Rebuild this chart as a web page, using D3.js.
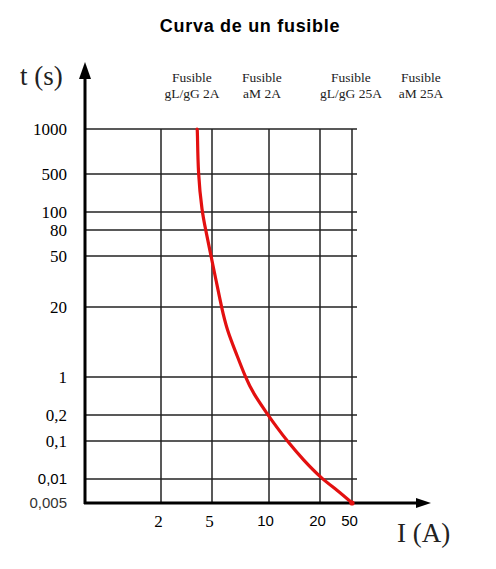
<!DOCTYPE html>
<html>
<head>
<meta charset="utf-8">
<script src="https://cdn.jsdelivr.net/npm/d3@7"></script>
<style>
  body { margin: 0; background: #fff; }
  .serif { font-family: "Liberation Serif", "Times New Roman", serif; }
  .sans { font-family: "Liberation Sans", Arial, sans-serif; }
</style>
</head>
<body>
<div id="vis"></div>
<script>
// data
const T_TICKS = [1000, 500, 100, 80, 50, 20, 1, 0.2, 0.1, 0.01, 0.005];
const T_LABELS = ["1000", "500", "100", "80", "50", "20", "1", "0,2", "0,1", "0,01", "0,005"];
const I_TICKS = [2, 5, 10, 20, 50];
const I_LABELS = ["2", "5", "10", "20", "50"];
const FUSE_TOP = ["Fusible", "Fusible", "Fusible", "Fusible"];
const FUSE_BOTTOM = ["gL/gG 2A", "aM 2A", "gL/gG 25A", "aM 25A"];
// fuse curve (current in A, time in s)
const CURVE_I = [3.82, 3.85, 3.89, 4.18, 4.47, 4.91, 5.25, 5.61, 6.0, 6.70, 7.5, 8.22, 9.88, 11.1, 12.8, 15.9, 21.2, 32.5, 50, 50];
const CURVE_T = [1000, 1000, 500, 100, 80, 50, 32.5, 20, 7.5, 2.8, 1, 0.51, 0.2, 0.145, 0.1, 0.032, 0.01, 0.0073, 0.005, 0.005];

// frame
const FRAME_WIDTH = 496;
const FRAME_HEIGHT = 569;
const ORIGIN = {x: 85, y: 503};
const GRID_RIGHT = 357;
const HEAD_X = [192, 262, 351, 421];

const svg = d3.select("#vis")
  .append("svg")
    .attr("width", FRAME_WIDTH)
    .attr("height", FRAME_HEIGHT);

// the paper's axes are not a true log grid, so use piecewise log scales
const X_SCALE = d3.scaleLog()
  .domain([1].concat(I_TICKS))
  .range([ORIGIN.x, 161, 212, 269, 320, 352]);
const Y_SCALE = d3.scaleLog()
  .domain(T_TICKS)
  .range([129, 174, 212, 230, 256, 307, 377, 415, 441, 479, ORIGIN.y]);

// title
svg.append("text")
  .attr("class", "sans")
  .attr("x", 250).attr("y", 32)
  .attr("text-anchor", "middle")
  .attr("font-size", "18px")
  .attr("letter-spacing", "0.7px")
  .attr("font-weight", "bold")
  .text("Curva de un fusible");

// grid
svg.append("g")
  .selectAll("line")
  .data(T_TICKS)
  .enter()
  .append("line")
    .attr("x1", ORIGIN.x).attr("x2", GRID_RIGHT)
    .attr("y1", d => Y_SCALE(d)).attr("y2", d => Y_SCALE(d))
    .attr("stroke", "#222").attr("stroke-width", 1.5);

svg.append("g")
  .selectAll("line")
  .data(I_TICKS)
  .enter()
  .append("line")
    .attr("x1", d => X_SCALE(d)).attr("x2", d => X_SCALE(d))
    .attr("y1", Y_SCALE(1000)).attr("y2", ORIGIN.y)
    .attr("stroke", "#222").attr("stroke-width", 1.5);

// y tick labels
const yAxis = svg.append("g")
  .attr("transform", "translate(" + (ORIGIN.x - 18) + ",0)")
  .call(d3.axisLeft(Y_SCALE).tickValues(T_TICKS).tickSize(0).tickPadding(0)
    .tickFormat((d, i) => T_LABELS[i]));
yAxis.select(".domain").remove();
yAxis.selectAll("text")
  .attr("font-family", (d, i) => i >= 9 ? "Liberation Sans, Arial, sans-serif" : "Liberation Serif, Times New Roman, serif")
  .attr("font-size", (d, i) => i >= 9 ? "15px" : "17px")
  .attr("fill", (d, i) => i == 10 ? "#333" : "#000");

// x tick labels
const xAxis = svg.append("g")
  .attr("transform", "translate(0," + ORIGIN.y + ")")
  .call(d3.axisBottom(X_SCALE).tickValues(I_TICKS).tickSize(0).tickPadding(12)
    .tickFormat((d, i) => I_LABELS[i]));
xAxis.select(".domain").remove();
xAxis.selectAll("text")
  .attr("font-family", (d, i) => i >= 2 ? "Liberation Sans, Arial, sans-serif" : "Liberation Serif, Times New Roman, serif")
  .attr("font-size", (d, i) => i >= 2 ? "15px" : "17px")
  .attr("dx", (d, i) => i == 2 ? -4 : -3);

// fuse headers
const heads = svg.append("g")
  .selectAll("text")
  .data(FUSE_TOP)
  .enter()
  .append("text")
    .attr("class", "serif")
    .attr("text-anchor", "middle")
    .attr("font-size", "13.5px")
    .attr("fill", "#222")
    .attr("x", (d, i) => HEAD_X[i]);
heads.append("tspan").attr("y", 82).text(d => d);
heads.append("tspan")
  .attr("x", (d, i) => HEAD_X[i])
  .attr("y", 98)
  .text((d, i) => FUSE_BOTTOM[i]);

// axes with arrows
svg.append("line")
  .attr("x1", ORIGIN.x).attr("x2", ORIGIN.x)
  .attr("y1", ORIGIN.y + 1).attr("y2", 76)
  .attr("stroke", "#000").attr("stroke-width", 3);
svg.append("path")
  .attr("d", "M" + ORIGIN.x + ",62 L" + (ORIGIN.x - 6) + ",79 L" + (ORIGIN.x + 6) + ",79 Z")
  .attr("fill", "#000");
svg.append("line")
  .attr("x1", ORIGIN.x - 1).attr("x2", 418)
  .attr("y1", ORIGIN.y).attr("y2", ORIGIN.y)
  .attr("stroke", "#000").attr("stroke-width", 3);
svg.append("path")
  .attr("d", "M431," + ORIGIN.y + " L416," + (ORIGIN.y - 5) + " L416," + (ORIGIN.y + 5) + " Z")
  .attr("fill", "#000");

// axis titles
svg.append("text")
  .attr("class", "serif")
  .attr("x", 20).attr("y", 85)
  .attr("font-size", "27px")
  .attr("fill", "#222")
  .text("t (s)");
svg.append("text")
  .attr("class", "serif")
  .attr("x", 397).attr("y", 542)
  .attr("font-size", "27px")
  .attr("fill", "#222")
  .text("I (A)");

// curve (basis spline, end points doubled so it reaches them)
const curveData = CURVE_I.map((d, i) => ({i: d, t: CURVE_T[i]}));
const line = d3.line()
  .x(d => X_SCALE(d.i))
  .y(d => Y_SCALE(d.t))
  .curve(d3.curveBasis);
svg.append("path")
  .datum(curveData)
  .attr("d", line)
  .attr("fill", "none")
  .attr("stroke", "#e31010")
  .attr("stroke-width", 3.2)
  .attr("stroke-linecap", "round");
svg.append("circle")
  .attr("cx", X_SCALE(CURVE_I[CURVE_I.length - 1]))
  .attr("cy", Y_SCALE(CURVE_T[CURVE_T.length - 1]))
  .attr("r", 2.6)
  .attr("fill", "#e31010");
</script>
</body>
</html>
